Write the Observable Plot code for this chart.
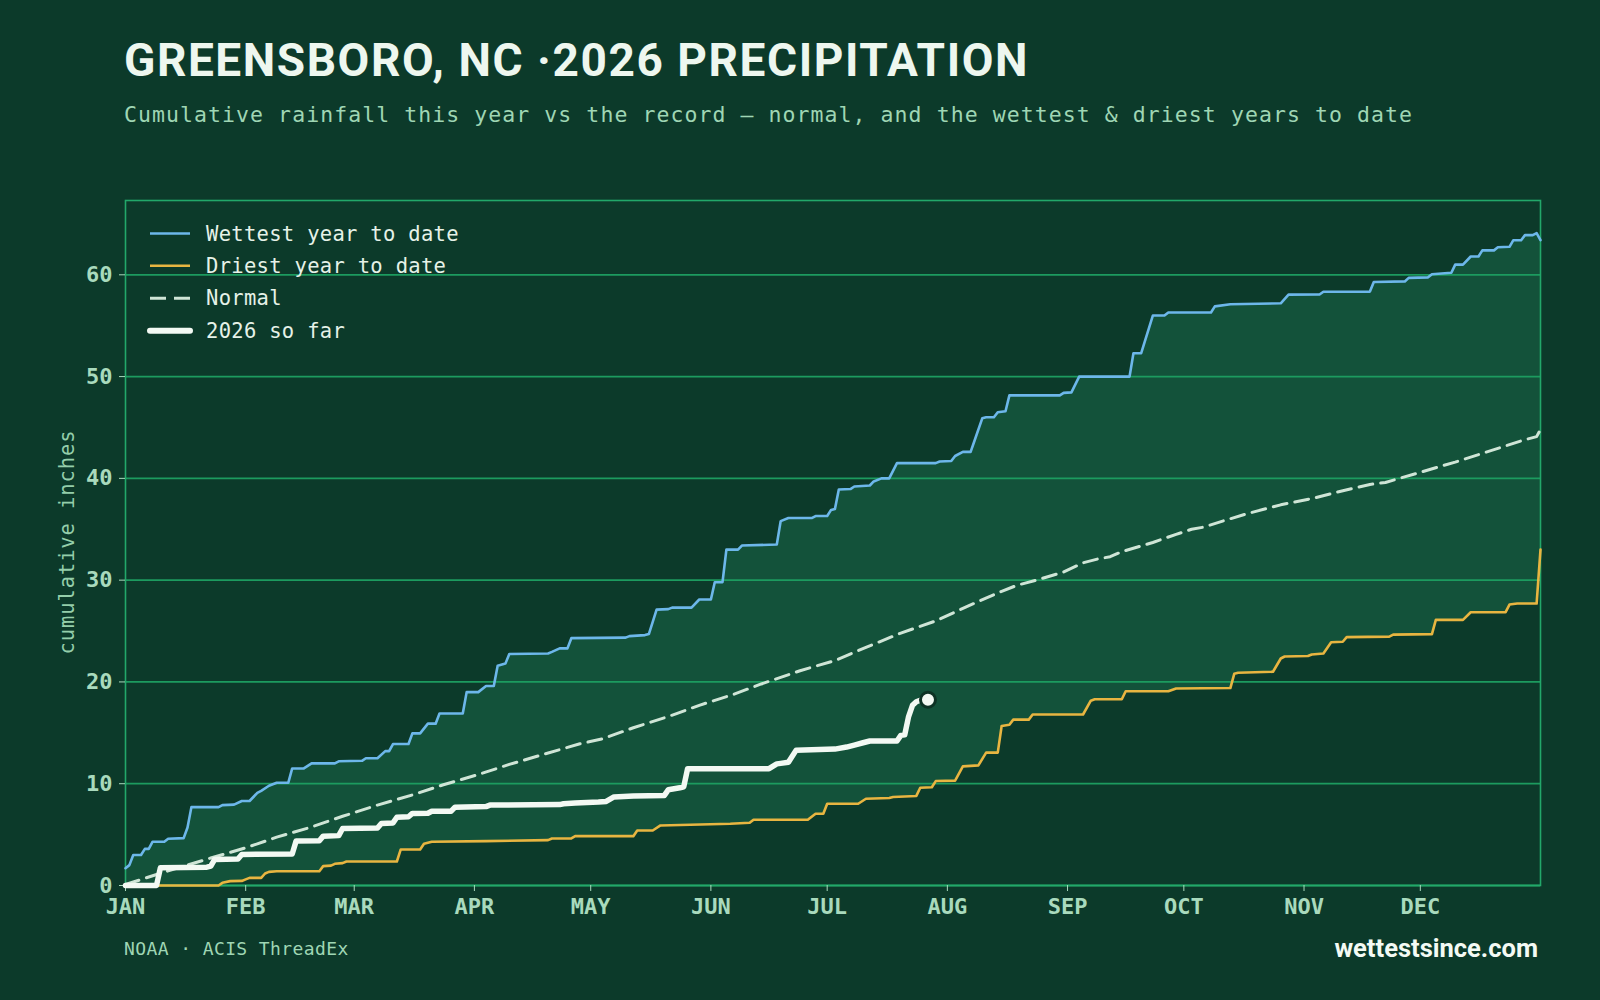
<!DOCTYPE html>
<html>
<head>
<meta charset="utf-8">
<script src="https://cdn.jsdelivr.net/npm/d3@7"></script>
<script src="https://cdn.jsdelivr.net/npm/@observablehq/plot@0.6"></script>
<style>
  html, body { margin: 0; padding: 0; background: #0c3a2a; }
  #page { position: relative; width: 1600px; height: 1000px; overflow: hidden; background: #0c3a2a; }
  #chart { position: absolute; left: 0; top: 170px; }
  #overlay { position: absolute; left: 0; top: 0; pointer-events: none; }
</style>
</head>
<body>
<div id="page">
  <div id="chart"></div>
  <svg id="overlay" width="1600" height="1000"></svg>
</div>
<script>
// ---- Cumulative precipitation series, [day of year (0 = Jan 1), inches] ----
const wettest = [
  [0,1.7],[1,2.0],[2,3.0],[4,3.0],[5,3.6],[6,3.6],[7,4.3],[10,4.3],[11,4.6],[15,4.65],
  [16,5.7],[17,7.7],[24,7.7],[25,7.9],[28,7.95],[30,8.3],[32,8.3],[34,9.1],[35,9.3],[37,9.8],
  [39,10.1],[42,10.1],[43,11.5],[46,11.5],[48,12.0],[54,12.0],[55,12.2],[61,12.25],[62,12.5],[65,12.5],
  [67,13.2],[68,13.2],[69,13.9],[73,13.9],[74,14.95],[76,14.95],[78,15.9],[80,15.9],[81,16.9],[87,16.9],
  [88,19.0],[91,19.0],[93,19.6],[95,19.6],[96,21.6],[98,21.8],[99,22.75],[109,22.8],[110,22.95],[112,23.3],
  [114,23.3],[115,24.3],[129,24.35],[130,24.5],[134,24.6],[135,24.7],[136,25.9],[137,27.1],[140,27.15],[141,27.3],
  [146,27.3],[148,28.1],[151,28.1],[152,29.8],[154,29.8],[155,33.0],[158,33.0],[159,33.4],[168,33.5],[169,35.8],
  [171,36.1],[177,36.1],[178,36.3],[181,36.3],[182,36.9],[183,37.0],[184,38.9],[187,38.95],[188,39.2],[192,39.3],
  [193,39.7],[195,40.0],[197,40.0],[199,41.5],[209,41.5],[210,41.65],[213,41.7],[214,42.2],[216,42.6],[218,42.6],
  [219,43.7],[221,45.9],[222,46.0],[224,46.0],[225,46.5],[227,46.6],[228,48.15],[241,48.15],[242,48.4],[244,48.45],
  [246,50.0],[259,50.0],[260,52.3],[262,52.3],[265,56.0],[268,56.0],[269,56.3],[280,56.3],[281,56.9],[285,57.1],
  [298,57.2],[300,58.05],[308,58.06],[309,58.33],[321,58.35],[322,59.3],[330,59.35],[331,59.7],[336,59.75],[337,60.05],
  [342,60.2],[343,61.0],[345,61.0],[347,61.8],[349,61.8],[350,62.4],[353,62.4],[354,62.7],[357,62.75],[358,63.4],
  [360,63.4],[361,63.9],[363,63.9],[364,64.1],[365,63.4]
];

const driest = [
  [0,0],[24,0],[25,0.26],[27,0.43],[30,0.45],[31,0.6],[32,0.75],[35,0.75],[36,1.18],[37,1.34],
  [39,1.4],[50,1.4],[51,1.9],[53,1.95],[54,2.13],[56,2.2],[57,2.36],[70,2.36],[71,3.54],[76,3.54],
  [77,4.1],[79,4.3],[93,4.36],[109,4.46],[110,4.62],[115,4.62],[116,4.85],[131,4.85],[132,5.4],[136,5.4],
  [138,5.9],[156,6.07],[161,6.16],[162,6.46],[176,6.46],[178,7.05],[180,7.05],[181,8.03],[189,8.03],[191,8.52],
  [197,8.6],[198,8.7],[204,8.8],[205,9.6],[208,9.65],[209,10.26],[214,10.3],[216,11.7],[220,11.8],[222,13.05],
  [225,13.05],[226,15.67],[228,15.8],[229,16.3],[233,16.3],[234,16.8],[247,16.8],[249,18.16],[250,18.3],[257,18.3],
  [258,19.08],[269,19.08],[271,19.36],[285,19.4],[286,20.8],[287,20.9],[296,21.0],[298,22.3],[299,22.5],[305,22.55],
  [306,22.7],[309,22.8],[311,23.9],[314,23.95],[315,24.4],[326,24.45],[327,24.65],[337,24.7],[338,26.1],[345,26.1],
  [347,26.85],[356,26.85],[357,27.6],[359,27.7],[364,27.7],[365,33.0]
];

const normal = [
  [0,0.1],[9,1.2],[22,2.7],[31,3.7],[39,4.75],[48,5.75],[56,6.8],[65,7.9],[74,8.9],[82,9.9],
  [91,10.9],[99,11.9],[108,12.9],[117,13.9],[123,14.4],[131,15.5],[140,16.6],[148,17.7],[157,18.8],[164,19.8],
  [174,21.1],[183,22.1],[191,23.4],[200,24.8],[209,26.0],[217,27.4],[226,28.9],[230,29.5],[235,30.0],[242,30.8],
  [247,31.7],[251,32.1],[254,32.3],[257,32.8],[265,33.7],[271,34.5],[275,35.0],[278,35.2],[283,35.8],[289,36.5],
  [298,37.4],[307,38.1],[312,38.6],[321,39.4],[325,39.6],[334,40.6],[343,41.6],[352,42.7],[361,43.8],[364,44.1],
  [365,44.8]
];

const current = [
  [0,0],[8,0],[9,1.74],[21,1.8],[22,1.9],[23,2.56],[29,2.6],[30,3.05],[43,3.1],[44,4.36],
  [50,4.4],[51,4.85],[55,4.9],[56,5.6],[65,5.65],[66,6.1],[69,6.15],[70,6.7],[73,6.75],[74,7.08],
  [78,7.1],[79,7.3],[84,7.3],[85,7.7],[93,7.75],[94,7.9],[112,7.95],[113,8.03],[116,8.1],[122,8.2],
  [124,8.26],[126,8.7],[131,8.8],[139,8.85],[140,9.4],[143,9.6],[144,9.7],[145,11.48],[166,11.48],[168,11.95],
  [169,12.0],[171,12.1],[173,13.3],[183,13.4],[186,13.6],[188,13.8],[190,14.0],[192,14.2],[199,14.2],[200,14.75],
  [201,14.8],[202,16.6],[203,17.7],[204,18.05],[205,18.2],[207,18.25]
];

// ---- Axis ticks and labels ----
const monthLabels = ["JAN","FEB","MAR","APR","MAY","JUN","JUL","AUG","SEP","OCT","NOV","DEC"];
const yTicks = [0, 10, 20, 30, 40, 50, 60];

// ---- Text ----
const titleText = "GREENSBORO, NC \u00b72026 PRECIPITATION";
const subtitleText = "Cumulative rainfall this year vs the record \u2014 normal, and the wettest & driest years to date";
const yLabelText = "cumulative inches";
const sourceText = "NOAA \u00b7 ACIS ThreadEx";
const siteText = "wettestsince.com";
const legendItems = [
  {label: "Wettest year to date", color: "#6db7ea", width: 2.6, dash: null},
  {label: "Driest year to date", color: "#e8b541", width: 2.6, dash: null},
  {label: "Normal", color: "#cfe5d6", width: 3, dash: "16,8"},
  {label: "2026 so far", color: "#f3f9f3", width: 6, dash: null}
];

// ---- Palette ----
const bg = "#0c3a2a";
const band = "#13523a";
const grid = "#1c9b5f";
const frameColor = "#22a86a";
const tickText = "#a9dabd";

const yearStart = new Date(Date.UTC(2026, 0, 1));
const yearEnd = new Date(Date.UTC(2027, 0, 1));
const toRows = pairs => pairs.map(([d, v]) => ({date: new Date(Date.UTC(2026, 0, 1 + d)), value: v}));

const wettestRows = toRows(wettest);
const driestRows = toRows(driest);
const normalRows = toRows(normal);
const currentRows = toRows(current);

const chart = Plot.plot({
  width: 1600,
  height: 770,
  marginTop: 30,
  marginBottom: 55,
  marginLeft: 125,
  marginRight: 60,
  style: {
    background: "transparent",
    color: tickText,
    fontFamily: "'DejaVu Sans Mono', monospace",
    fontSize: "22px",
    fontWeight: "bold"
  },
  x: {type: "utc", domain: [yearStart, yearEnd]},
  y: {domain: [0, 67.3]},
  marks: [
    // band between the wettest and driest records
    Plot.areaY(wettestRows, {x: "date", y: "value", fill: band}),
    Plot.areaY(driestRows, {x: "date", y: "value", fill: bg}),
    Plot.gridY(yTicks, {stroke: grid, strokeOpacity: 1, strokeWidth: 1.8}),
    Plot.frame({stroke: frameColor, strokeWidth: 1.6}),
    Plot.axisY(yTicks, {tickSize: 6, tickPadding: 7, label: null}),
    Plot.axisX(d3.utcMonths(yearStart, yearEnd), {
      tickSize: 6, tickPadding: 7, label: null,
      tickFormat: d => monthLabels[d.getUTCMonth()]
    }),
    Plot.lineY(normalRows, {x: "date", y: "value", stroke: "#cfe5d6", strokeWidth: 3, strokeDasharray: "14,8"}),
    Plot.lineY(driestRows, {x: "date", y: "value", stroke: "#e8b541", strokeWidth: 2.6}),
    Plot.lineY(wettestRows, {x: "date", y: "value", stroke: "#6db7ea", strokeWidth: 2.6}),
    Plot.lineY(currentRows, {x: "date", y: "value", stroke: "#f3f9f3", strokeWidth: 5.5, strokeLinejoin: "round", strokeLinecap: "round"}),
    Plot.dot(currentRows.slice(-1), {x: "date", y: "value", r: 7.5, fill: "#f3f9f3", stroke: "#0d3224", strokeWidth: 3})
  ]
});
document.getElementById("chart").appendChild(chart);

// ---- Title, subtitle, axis label, legend and footer ----
const svg = d3.select("#overlay");

function fitSpacing(sel, target) {
  const node = sel.node();
  const w = node.getComputedTextLength();
  const n = node.textContent.length;
  sel.attr("letter-spacing", ((target - w) / n).toFixed(3));
}

const title = svg.append("text")
  .attr("x", 124).attr("y", 76)
  .attr("fill", "#eef7ef")
  .style("font-family", "Roboto, 'Open Sans', sans-serif")
  .style("font-weight", 700)
  .style("font-size", "46px")
  .text(titleText);
fitSpacing(title, 905);

const subtitle = svg.append("text")
  .attr("x", 124).attr("y", 121.5)
  .attr("fill", "#9fd6b4")
  .style("font-family", "'DejaVu Sans Mono', monospace")
  .style("font-size", "21.5px")
  .text(subtitleText);
fitSpacing(subtitle, 1289);

svg.append("text")
  .attr("transform", "translate(67,542) rotate(-90)")
  .attr("text-anchor", "middle")
  .attr("dominant-baseline", "central")
  .attr("fill", "#94ceaa")
  .attr("letter-spacing", 0.9)
  .style("font-family", "'DejaVu Sans Mono', monospace")
  .style("font-size", "20.5px")
  .text(yLabelText);

const legendRowY = [233.5, 265.8, 298.2, 330.8];
legendItems.forEach((item, i) => {
  const y = legendRowY[i];
  svg.append("line")
    .attr("x1", 150).attr("x2", 190).attr("y1", y).attr("y2", y)
    .attr("stroke", item.color)
    .attr("stroke-width", item.width)
    .attr("stroke-linecap", i === 3 ? "round" : "butt")
    .attr("stroke-dasharray", item.dash);
  svg.append("text")
    .attr("x", 206).attr("y", y)
    .attr("dominant-baseline", "central")
    .attr("fill", "#e6f2e8")
    .attr("letter-spacing", 0.3)
    .style("font-family", "'DejaVu Sans Mono', monospace")
    .style("font-size", "20.5px")
    .text(item.label);
});

svg.append("text")
  .attr("x", 124).attr("y", 948)
  .attr("dominant-baseline", "central")
  .attr("fill", "#9fd6b4")
  .attr("letter-spacing", 0.4)
  .style("font-family", "'DejaVu Sans Mono', monospace")
  .style("font-size", "18px")
  .text(sourceText);

svg.append("text")
  .attr("x", 1538).attr("y", 948)
  .attr("text-anchor", "end")
  .attr("dominant-baseline", "central")
  .attr("fill", "#f4faf4")
  .style("font-family", "Roboto, 'Open Sans', sans-serif")
  .style("font-weight", 700)
  .style("font-size", "25.5px")
  .text(siteText);
</script>
</body>
</html>
